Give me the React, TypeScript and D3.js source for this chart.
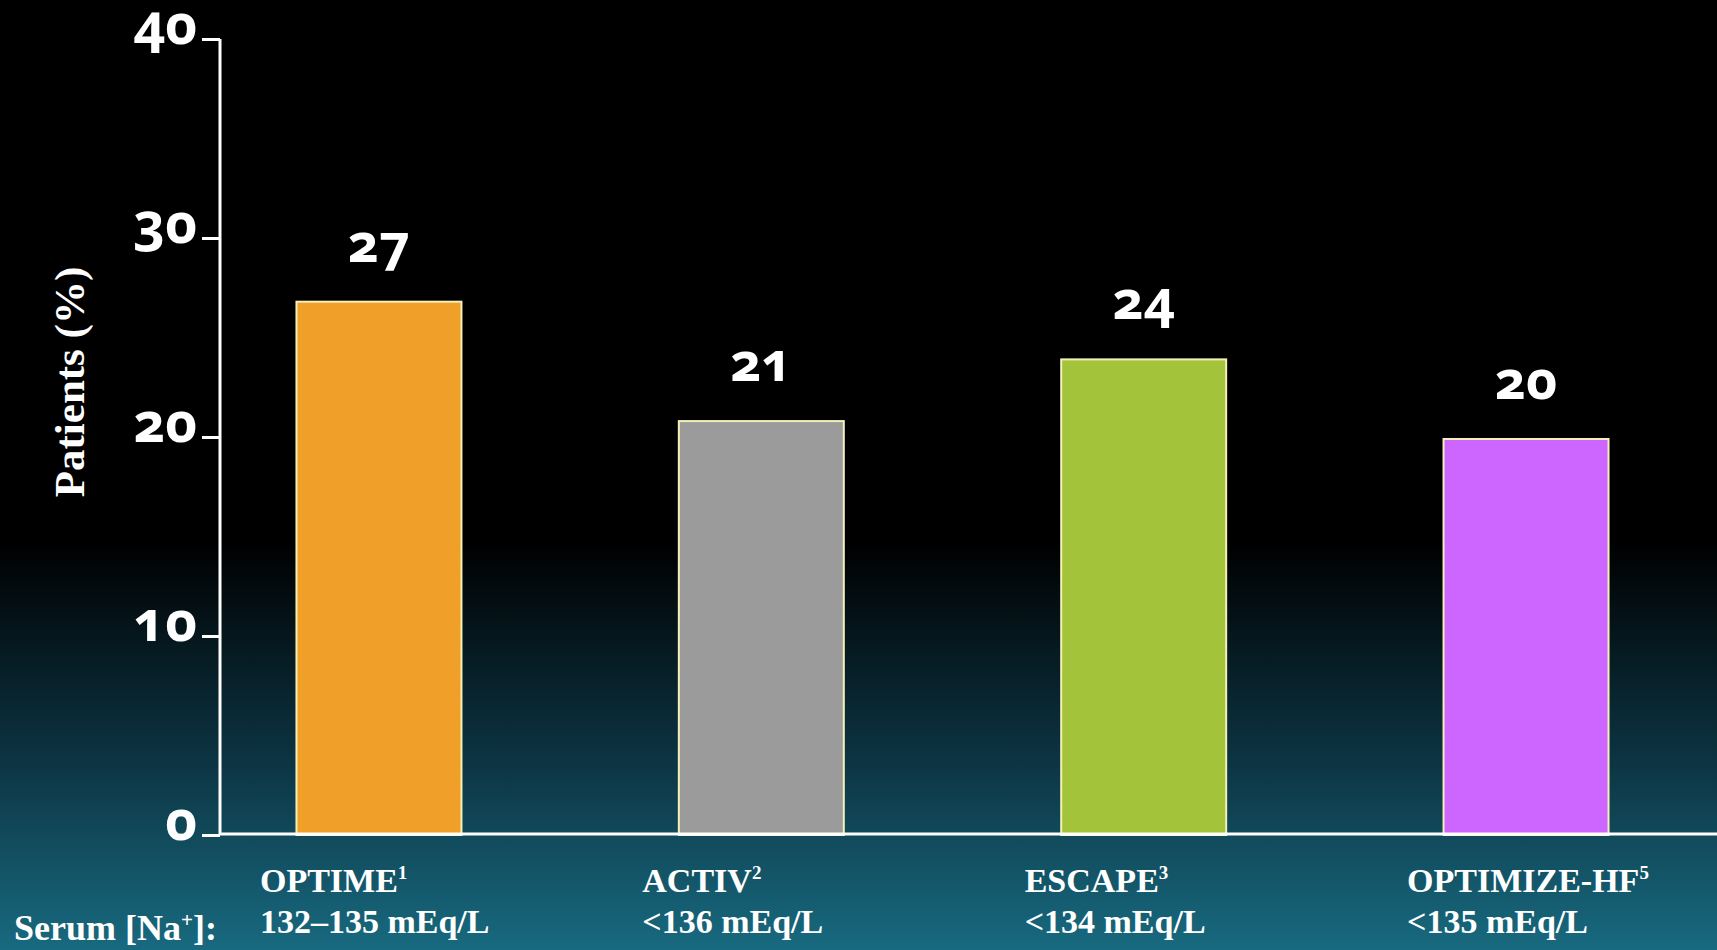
import React, { useEffect, useRef } from "react";
import * as d3 from "d3";

const categories = ["OPTIME", "ACTIV", "ESCAPE", "OPTIMIZE-HF"];
const superscripts = ["1", "2", "3", "5"];
const thresholds = ["132–135 mEq/L", "<136 mEq/L", "<134 mEq/L", "<135 mEq/L"];
const values = [26.8, 20.8, 23.9, 19.9];
const valueLabels = ["27", "21", "24", "20"];
const barColors = ["#F0A028", "#9B9B9B", "#A3C43A", "#CC66FF"];
const yTicks = [0, 10, 20, 30, 40];

const W = 1717;
const H = 950;
const x0 = 220;
const y0 = 835;
const yTop = 39;

export default function App() {
  const axisRef = useRef<SVGGElement>(null);

  const y = d3.scaleLinear().domain([0, 40]).range([y0, yTop]);
  const x = d3
    .scaleBand<string>()
    .domain(categories)
    .range([x0, 1685])
    .paddingInner(0.5685)
    .paddingOuter(0.2);

  useEffect(() => {
    if (!axisRef.current) return;
    const g = d3.select(axisRef.current);
    g.selectAll("*").remove();
    g.call(
      d3
        .axisLeft(y)
        .tickValues(yTicks)
        .tickSize(18)
        .tickPadding(5)
        .tickFormat((d) => String(d))
    );
    g.select(".domain").remove();
    g.selectAll(".tick line").attr("stroke", "#ffffff").attr("stroke-width", 3);
    g.selectAll(".tick text")
      .attr("fill", "#ffffff")
      .attr("dy", "4px")
      .style("font-family", "'Open Sans', sans-serif")
      .style("font-weight", 700)
      .style("font-size", "55px")
      .style("font-variant-numeric", "oldstyle-nums");
  }, []);

  const labelFont = { fontFamily: "'Liberation Serif', serif", fontWeight: 700, fontSize: 34 };

  return (
    <div style={{ position: "absolute", left: 0, top: 0 }}>
      <svg width={W} height={H} style={{ display: "block" }}>
        <defs>
          <linearGradient id="bg" x1="0" y1="0" x2="0" y2="1">
            <stop offset="0" stopColor="#000000" />
            <stop offset="0.57" stopColor="#000000" />
            <stop offset="0.8" stopColor="#0c3442" />
            <stop offset="1" stopColor="#186a80" />
          </linearGradient>
        </defs>
        <rect x={0} y={0} width={W} height={H} fill="url(#bg)" />

        {categories.map((c, i) => (
          <rect
            key={c}
            x={x(c)}
            y={y(values[i])}
            width={x.bandwidth()}
            height={y0 - y(values[i])}
            fill={barColors[i]}
            stroke="#f4f0b8"
            strokeWidth={2}
          />
        ))}

        {categories.map((c, i) => (
          <text
            key={c + "v"}
            x={(x(c) as number) + x.bandwidth() / 2}
            y={y(values[i]) - 40}
            textAnchor="middle"
            fill="#ffffff"
            style={{
              fontFamily: "'Open Sans', sans-serif",
              fontWeight: 700,
              fontSize: 54,
              fontVariantNumeric: "oldstyle-nums",
            }}
          >
            {valueLabels[i]}
          </text>
        ))}

        <g ref={axisRef} transform={`translate(${x0},0)`} />
        <line x1={x0} x2={x0} y1={yTop} y2={y0} stroke="#ffffff" strokeWidth={3} />
        <line x1={x0} x2={W} y1={y0 - 1} y2={y0 - 1} stroke="#ffffff" strokeWidth={3} />

        <text
          transform={`translate(84,382) rotate(-90)`}
          textAnchor="middle"
          fill="#ffffff"
          style={{ fontFamily: "'Liberation Serif', serif", fontWeight: 700, fontSize: 43 }}
        >
          Patients (%)
        </text>

        {categories.map((c, i) => {
          const lx = (x(c) as number) + x.bandwidth() / 2 - 119;
          return (
            <g key={c + "l"}>
              <text x={lx} y={892} fill="#ffffff" style={labelFont}>
                {c}
                <tspan fontSize={19} dy={-13}>
                  {superscripts[i]}
                </tspan>
              </text>
              <text x={lx} y={933} fill="#ffffff" style={labelFont}>
                {thresholds[i]}
              </text>
            </g>
          );
        })}

        <text x={14} y={940} fill="#ffffff" style={{ ...labelFont, fontSize: 36 }}>
          Serum [Na
          <tspan fontSize={21} dy={-13}>+</tspan>
          <tspan dy={13}>]:</tspan>
        </text>
      </svg>
    </div>
  );
}
